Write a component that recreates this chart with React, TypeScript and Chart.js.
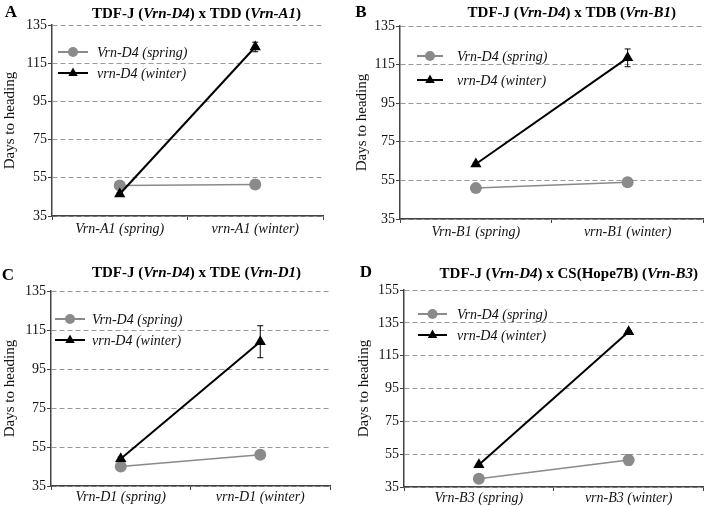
import React, { useEffect, useRef } from 'react';
import { Chart, registerables } from 'chart.js';
Chart.register(...registerables);

const FONT = '"Liberation Serif", "Times New Roman", serif';

// ---- data ----
const seriesLabels = ['Vrn-D4 (spring)', 'vrn-D4 (winter)'];
const yAxisTitle = 'Days to heading';
const panelLetters = ['A', 'B', 'C', 'D'];

const titleA: [string, boolean][] = [['TDF-J (', false], ['Vrn-D4', true], [') x TDD (', false], ['Vrn-A1', true], [')', false]];
const titleB: [string, boolean][] = [['TDF-J (', false], ['Vrn-D4', true], [') x TDB (', false], ['Vrn-B1', true], [')', false]];
const titleC: [string, boolean][] = [['TDF-J (', false], ['Vrn-D4', true], [') x TDE (', false], ['Vrn-D1', true], [')', false]];
const titleD: [string, boolean][] = [['TDF-J (', false], ['Vrn-D4', true], [') x CS(Hope7B) (', false], ['Vrn-B3', true], [')', false]];

const categoriesA = ['Vrn-A1 (spring)', 'vrn-A1 (winter)'];
const springA = [51, 51.5];
const winterA = [46.5, 123.5];
const springErrA = [0.5, 0.8];
const winterErrA = [0.8, 2.5];

const categoriesB = ['Vrn-B1 (spring)', 'vrn-B1 (winter)'];
const springB = [51, 54];
const winterB = [63.5, 118.5];
const springErrB = [0.5, 0.8];
const winterErrB = [0.8, 4.6];

const categoriesC = ['Vrn-D1 (spring)', 'vrn-D1 (winter)'];
const springC = [45, 51];
const winterC = [49, 109];
const springErrC = [0.5, 0.8];
const winterErrC = [0.8, 8.2];

const categoriesD = ['Vrn-B3 (spring)', 'vrn-B3 (winter)'];
const springD = [40, 51.5];
const winterD = [48.5, 129.5];
const springErrD = [0.5, 3.3];
const winterErrD = [0.8, 0.8];

const yMinABC = 35, yMaxABC = 135;
const yMinD = 35, yMaxD = 155;
const yStep = 20;

// ---- layout / styling (not data) ----
const W = 355, H = 253;
type Layout = {
  x: number; y: number; left: number; top: number; right: number; bottom: number;
  titleDx: number; titleY: number; letterX: number; letterY: number;
  legDx: number; legDy: number; legGap: number; legLen: number; legTextDx: number; yTitlePad: number;
  xTickPad: number;
};
const layouts: Layout[] = [
  { x: 0, y: 0, left: 52, top: 25, right: 323, bottom: 216, titleDx: 9, titleY: 14, letterX: 11, letterY: 13, legDx: 6, legDy: 27, legGap: 21, legLen: 30, legTextDx: 45, yTitlePad: 1, xTickPad: 2 },
  { x: 355, y: 0, left: 45, top: 26, right: 353, bottom: 219, titleDx: 20, titleY: 13, letterX: 6, letterY: 13, legDx: 17, legDy: 30, legGap: 24, legLen: 26, legTextDx: 57, yTitlePad: -2, xTickPad: 2 },
  { x: 0, y: 253, left: 51, top: 38, right: 330, bottom: 233, titleDx: 6, titleY: 20, letterX: 8, letterY: 23, legDx: 4, legDy: 28, legGap: 21, legLen: 30, legTextDx: 41, yTitlePad: 1, xTickPad: 0 },
  { x: 355, y: 253, left: 49, top: 37, right: 352, bottom: 234, titleDx: 15, titleY: 21, letterX: 11, letterY: 20, legDx: 14, legDy: 24, legGap: 21, legLen: 29, legTextDx: 53, yTitlePad: 0, xTickPad: 0 },
];

const SPRING_COLOR = '#8a8a8a';
const WINTER_COLOR = '#000000';

type Panel = {
  letter: string; title: [string, boolean][]; categories: string[];
  spring: number[]; winter: number[]; springErr: number[]; winterErr: number[];
  yMin: number; yMax: number; layout: Layout;
};

const panels: Panel[] = [
  { letter: panelLetters[0], title: titleA, categories: categoriesA, spring: springA, winter: winterA, springErr: springErrA, winterErr: winterErrA, yMin: yMinABC, yMax: yMaxABC, layout: layouts[0] },
  { letter: panelLetters[1], title: titleB, categories: categoriesB, spring: springB, winter: winterB, springErr: springErrB, winterErr: winterErrB, yMin: yMinABC, yMax: yMaxABC, layout: layouts[1] },
  { letter: panelLetters[2], title: titleC, categories: categoriesC, spring: springC, winter: winterC, springErr: springErrC, winterErr: winterErrC, yMin: yMinABC, yMax: yMaxABC, layout: layouts[2] },
  { letter: panelLetters[3], title: titleD, categories: categoriesD, spring: springD, winter: winterD, springErr: springErrD, winterErr: winterErrD, yMin: yMinD, yMax: yMaxD, layout: layouts[3] },
];

function drawTriangle(ctx: CanvasRenderingContext2D, x: number, y: number, r: number) {
  ctx.beginPath();
  ctx.moveTo(x, y - r * 1.1);
  ctx.lineTo(x + r * 0.95, y + r * 0.6);
  ctx.lineTo(x - r * 0.95, y + r * 0.6);
  ctx.closePath();
  ctx.fill();
}

function PanelChart({ p }: { p: Panel }) {
  const ref = useRef<HTMLCanvasElement | null>(null);
  useEffect(() => {
    if (!ref.current) return;
    const L = p.layout;
    const errs = [p.springErr, p.winterErr];
    const plugin = {
      id: 'decor' + p.letter,
      beforeDatasetsDraw(chart: any) {
        const ctx = chart.ctx as CanvasRenderingContext2D;
        const ys = chart.scales.y;
        chart.data.datasets.forEach((ds: any, i: number) => {
          const meta = chart.getDatasetMeta(i);
          ds.data.forEach((v: number, j: number) => {
            const e = errs[i][j];
            if (!e) return;
            const x = meta.data[j].x;
            const y1 = ys.getPixelForValue(v + e);
            const y2 = ys.getPixelForValue(v - e);
            ctx.save();
            ctx.strokeStyle = ds.borderColor;
            ctx.lineWidth = 1;
            ctx.beginPath();
            ctx.moveTo(x, y1); ctx.lineTo(x, y2);
            ctx.moveTo(x - 3, y1); ctx.lineTo(x + 3, y1);
            ctx.moveTo(x - 3, y2); ctx.lineTo(x + 3, y2);
            ctx.stroke();
            ctx.restore();
          });
        });
      },
      afterDraw(chart: any) {
        const ctx = chart.ctx as CanvasRenderingContext2D;
        const ca = chart.chartArea;
        ctx.save();
        // panel letter
        ctx.fillStyle = '#000';
        ctx.font = `bold 17px ${FONT}`;
        ctx.textAlign = 'center';
        ctx.textBaseline = 'middle';
        ctx.fillText(p.letter, L.letterX, L.letterY);
        // title with mixed styles
        const fontOf = (it: boolean) => `${it ? 'italic ' : ''}bold 15px ${FONT}`;
        let total = 0;
        p.title.forEach(([t, it]) => { ctx.font = fontOf(it); total += ctx.measureText(t).width; });
        let x = (ca.left + ca.right) / 2 + L.titleDx - total / 2;
        ctx.textAlign = 'left';
        p.title.forEach(([t, it]) => {
          ctx.font = fontOf(it);
          ctx.fillText(t, x, L.titleY);
          x += ctx.measureText(t).width;
        });
        // legend
        chart.data.datasets.forEach((ds: any, i: number) => {
          const y = ca.top + L.legDy + i * L.legGap;
          const x1 = ca.left + L.legDx;
          const x2 = x1 + L.legLen;
          ctx.strokeStyle = ds.borderColor;
          ctx.fillStyle = ds.backgroundColor;
          ctx.lineWidth = 2;
          ctx.beginPath();
          ctx.moveTo(x1, y); ctx.lineTo(x2, y);
          ctx.stroke();
          const cx = (x1 + x2) / 2;
          if (ds.pointStyle === 'triangle') {
            drawTriangle(ctx, cx, y, 5);
          } else {
            ctx.beginPath();
            ctx.arc(cx, y, 5, 0, Math.PI * 2);
            ctx.fill();
          }
          ctx.fillStyle = '#111';
          ctx.font = `italic 14px ${FONT}`;
          ctx.textBaseline = 'middle';
          ctx.fillText(ds.label, ca.left + L.legTextDx, y + 1);
        });
        ctx.restore();
      },
    };
    const chart = new Chart(ref.current, {
      type: 'line',
      data: {
        labels: p.categories,
        datasets: [
          {
            label: seriesLabels[0], data: p.spring, borderColor: SPRING_COLOR, backgroundColor: SPRING_COLOR,
            borderWidth: 1.5, pointStyle: 'circle', pointRadius: 6, pointBorderWidth: 0, pointBackgroundColor: SPRING_COLOR, order: 1,
          },
          {
            label: seriesLabels[1], data: p.winter, borderColor: WINTER_COLOR, backgroundColor: WINTER_COLOR,
            borderWidth: 2, pointStyle: 'triangle', pointRadius: 6.5, pointBorderWidth: 0, pointBackgroundColor: WINTER_COLOR, order: 0,
          },
        ],
      },
      options: {
        responsive: false,
        animation: false,
        devicePixelRatio: 1,
        layout: { padding: { top: L.top, right: W - L.right, left: 0, bottom: 0 } },
        plugins: { legend: { display: false }, tooltip: { enabled: false }, title: { display: false } },
        scales: {
          x: {
            type: 'category',
            offset: true,
            grid: { display: true, offset: true, drawOnChartArea: false, drawTicks: true, tickLength: 4, tickColor: '#444', tickWidth: 1, color: '#444' },
            border: { display: true, color: '#444', width: 1.5 },
            ticks: { color: '#111', font: { family: FONT, size: 14, style: 'italic', lineHeight: 1 }, padding: L.xTickPad, maxRotation: 0 },
            afterFit: (s: any) => { s.height = H - L.bottom; },
          },
          y: {
            min: p.yMin, max: p.yMax,
            grid: { display: true, color: '#9a9a9a', lineWidth: 1, drawTicks: true, tickLength: 4, tickColor: '#444', tickWidth: 1 },
            border: { display: true, color: '#444', width: 1.5, dash: [5, 3] },
            ticks: { stepSize: yStep, color: '#111', font: { family: FONT, size: 14 }, padding: 1 },
            title: { display: true, text: yAxisTitle, color: '#111', font: { family: FONT, size: 15 }, padding: { top: L.yTitlePad, bottom: 0 } },
            afterFit: (s: any) => { s.width = L.left; },
          },
        },
      },
      plugins: [plugin],
    } as any);
    return () => chart.destroy();
  }, [p]);
  return (
    <div style={{ position: 'absolute', left: p.layout.x, top: p.layout.y, width: W, height: H }}>
      <canvas ref={ref} width={W} height={H} style={{ display: 'block' }} />
    </div>
  );
}

export default function App() {
  return (
    <div style={{ position: 'fixed', left: 0, top: 0, width: 710, height: 506, background: '#fff' }}>
      {panels.map((p) => <PanelChart key={p.letter} p={p} />)}
    </div>
  );
}
